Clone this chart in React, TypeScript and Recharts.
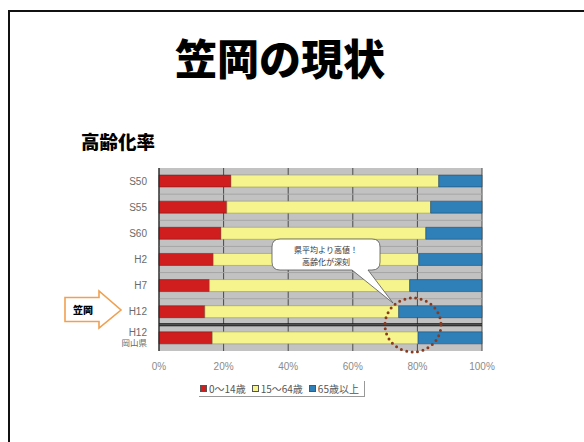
import React from 'react';
import { BarChart, Bar, XAxis, YAxis, CartesianGrid, ReferenceLine } from 'recharts';

const categories = ['S50', 'S55', 'S60', 'H2', 'H7', 'H12', 'H12\n岡山県'];
const young = [22.3, 21.0, 19.2, 16.8, 15.6, 14.2, 16.5];
const working = [64.3, 63.1, 63.4, 63.6, 62.0, 60.0, 63.7];
const elderly = [13.4, 15.9, 17.4, 19.6, 22.4, 25.8, 19.8];
const xTicks = [0, 20, 40, 60, 80, 100];
const seriesNames = ['0〜14歳', '15〜64歳', '65歳以上'];
const seriesColors = ['#d01e1e', '#f6f48c', '#2f80b8'];

const data = categories.map((c, i) => ({
  name: c,
  young: young[i],
  working: working[i],
  elderly: elderly[i],
}));

const JP = '"Noto Sans CJK JP", sans-serif';
const SANS = '"Liberation Sans", Arial, sans-serif';

const YTick = (props: any) => {
  const { x, y, payload } = props;
  const lines = String(payload.value).split('\n');
  const lh = 11;
  const startY = y - ((lines.length - 1) * lh) / 2;
  return (
    <text x={x - 4} y={startY} textAnchor="end" fill="#6a6a6a" fontSize={10} fontFamily={lines.length > 1 ? JP : SANS}>
      {lines.map((l, i) => (
        <tspan key={i} x={x - 4} y={startY + i * lh} dy="0.35em" fontSize={i > 0 ? 8.5 : 10} fontFamily={i > 0 ? JP : SANS}>
          {l}
        </tspan>
      ))}
    </text>
  );
};

export default function App() {
  return (
    <div style={{ position: 'absolute', left: 0, top: 0, width: 584, height: 442, background: '#fff', overflow: 'hidden' }}>
      {/* slide frame */}
      <div style={{ position: 'absolute', left: 8, top: 10, width: 600, height: 460, borderTop: '2.5px solid #111', borderLeft: '2.5px solid #111' }} />
      <div style={{ position: 'absolute', left: 0, width: 560, top: 36, textAlign: 'center', fontFamily: JP, fontWeight: 900, fontSize: 42, lineHeight: 1, color: '#000' }}>
        笠岡の現状
      </div>
      <div style={{ position: 'absolute', left: 81, top: 132, fontFamily: JP, fontWeight: 900, fontSize: 18.5, lineHeight: 1, color: '#000' }}>
        高齢化率
      </div>
      <div style={{ position: 'absolute', left: 0, top: 0 }}>
        <BarChart
          width={584}
          height={442}
          data={data}
          layout="vertical"
          barSize={12}
          margin={{ top: 168, right: 102, bottom: 71, left: 99 }}
        >
          <CartesianGrid
            horizontal={false}
            vertical={true}
            stroke="#4a4a4a"
            strokeWidth={1}
            fill="#c2c2c2"
            fillOpacity={1}
          />
          <CartesianGrid
            vertical={false}
            horizontal={true}
            stroke="#a6a6a6"
            strokeWidth={1}
            horizontalCoordinatesGenerator={({ offset }: any) =>
              categories.slice(1, -1).map((_, i) => offset.top + ((i + 1) * offset.height) / categories.length)
            }
          />
          <XAxis
            type="number"
            domain={[0, 100]}
            ticks={xTicks}
            tickFormatter={(v: number) => `${v}%`}
            axisLine={false}
            tickLine={false}
            tickMargin={6}
            height={20}
            tick={{ fill: '#8a8a8a', fontSize: 10, fontFamily: SANS }}
            interval={0}
          />
          <YAxis
            type="category"
            dataKey="name"
            width={60}
            axisLine={{ stroke: '#222', strokeWidth: 1 }}
            tickLine={false}
            tick={<YTick />}
            interval={0}
          />
          <Bar dataKey="young" stackId="a" fill={seriesColors[0]} stroke="#5a1a1a" strokeWidth={0.5} isAnimationActive={false} />
          <Bar dataKey="working" stackId="a" fill={seriesColors[1]} stroke="#8a8a50" strokeWidth={0.5} isAnimationActive={false} />
          <Bar dataKey="elderly" stackId="a" fill={seriesColors[2]} stroke="#1a3a5a" strokeWidth={0.5} isAnimationActive={false} />
          <ReferenceLine y={categories[6]} position="start" stroke="#111" strokeWidth={3} />
          <ReferenceLine y={categories[6]} position="start" stroke="#888" strokeWidth={0.8} />
        </BarChart>
      </div>
      {/* legend */}
      <div
        style={{
          position: 'absolute',
          left: 199,
          top: 381,
          display: 'flex',
          alignItems: 'center',
          gap: 6,
          padding: '1px 5px 1px 1px',
          borderRight: '1px solid #999',
          borderBottom: '1px solid #999',
          fontFamily: JP,
          fontSize: 10,
          color: '#555',
          lineHeight: '13px',
        }}
      >
        {seriesNames.map((n, i) => (
          <div key={n} style={{ display: 'flex', alignItems: 'center', gap: 2 }}>
            <span style={{ display: 'inline-block', width: 5, height: 5, background: seriesColors[i], border: '0.5px solid #555' }} />
            <span>{n}</span>
          </div>
        ))}
      </div>
      {/* annotations */}
      <svg width={584} height={442} style={{ position: 'absolute', left: 0, top: 0, pointerEvents: 'none' }}>
        <path
          d="M280,239 H372 Q380,239 380,247 V262 Q380,270 372,270 H368 L393,303 L352,270 H280 Q272,270 272,262 V247 Q272,239 280,239 Z"
          fill="#fff"
          stroke="#555"
          strokeWidth={0.8}
        />
        <text x={326} y={253} textAnchor="middle" fontSize={8} fill="#333" fontFamily={JP}>県平均より高値！</text>
        <text x={326} y={265} textAnchor="middle" fontSize={8} fill="#333" fontFamily={JP}>高齢化が深刻</text>
        <ellipse cx={413} cy={325} rx={28} ry={27} fill="none" stroke="#8a3a1e" strokeWidth={3} strokeDasharray="0 5.5" strokeLinecap="round" />
        <path
          d="M65,297.5 H99 V291 L121,310 L99,328 V321.5 H65 Z"
          fill="#fff"
          stroke="#f0a050"
          strokeWidth={1.6}
          strokeLinejoin="miter"
        />
        <text x={83} y={314} textAnchor="middle" fontSize={10} fontWeight={900} fill="#000" fontFamily={JP}>笠岡</text>
      </svg>
    </div>
  );
}
